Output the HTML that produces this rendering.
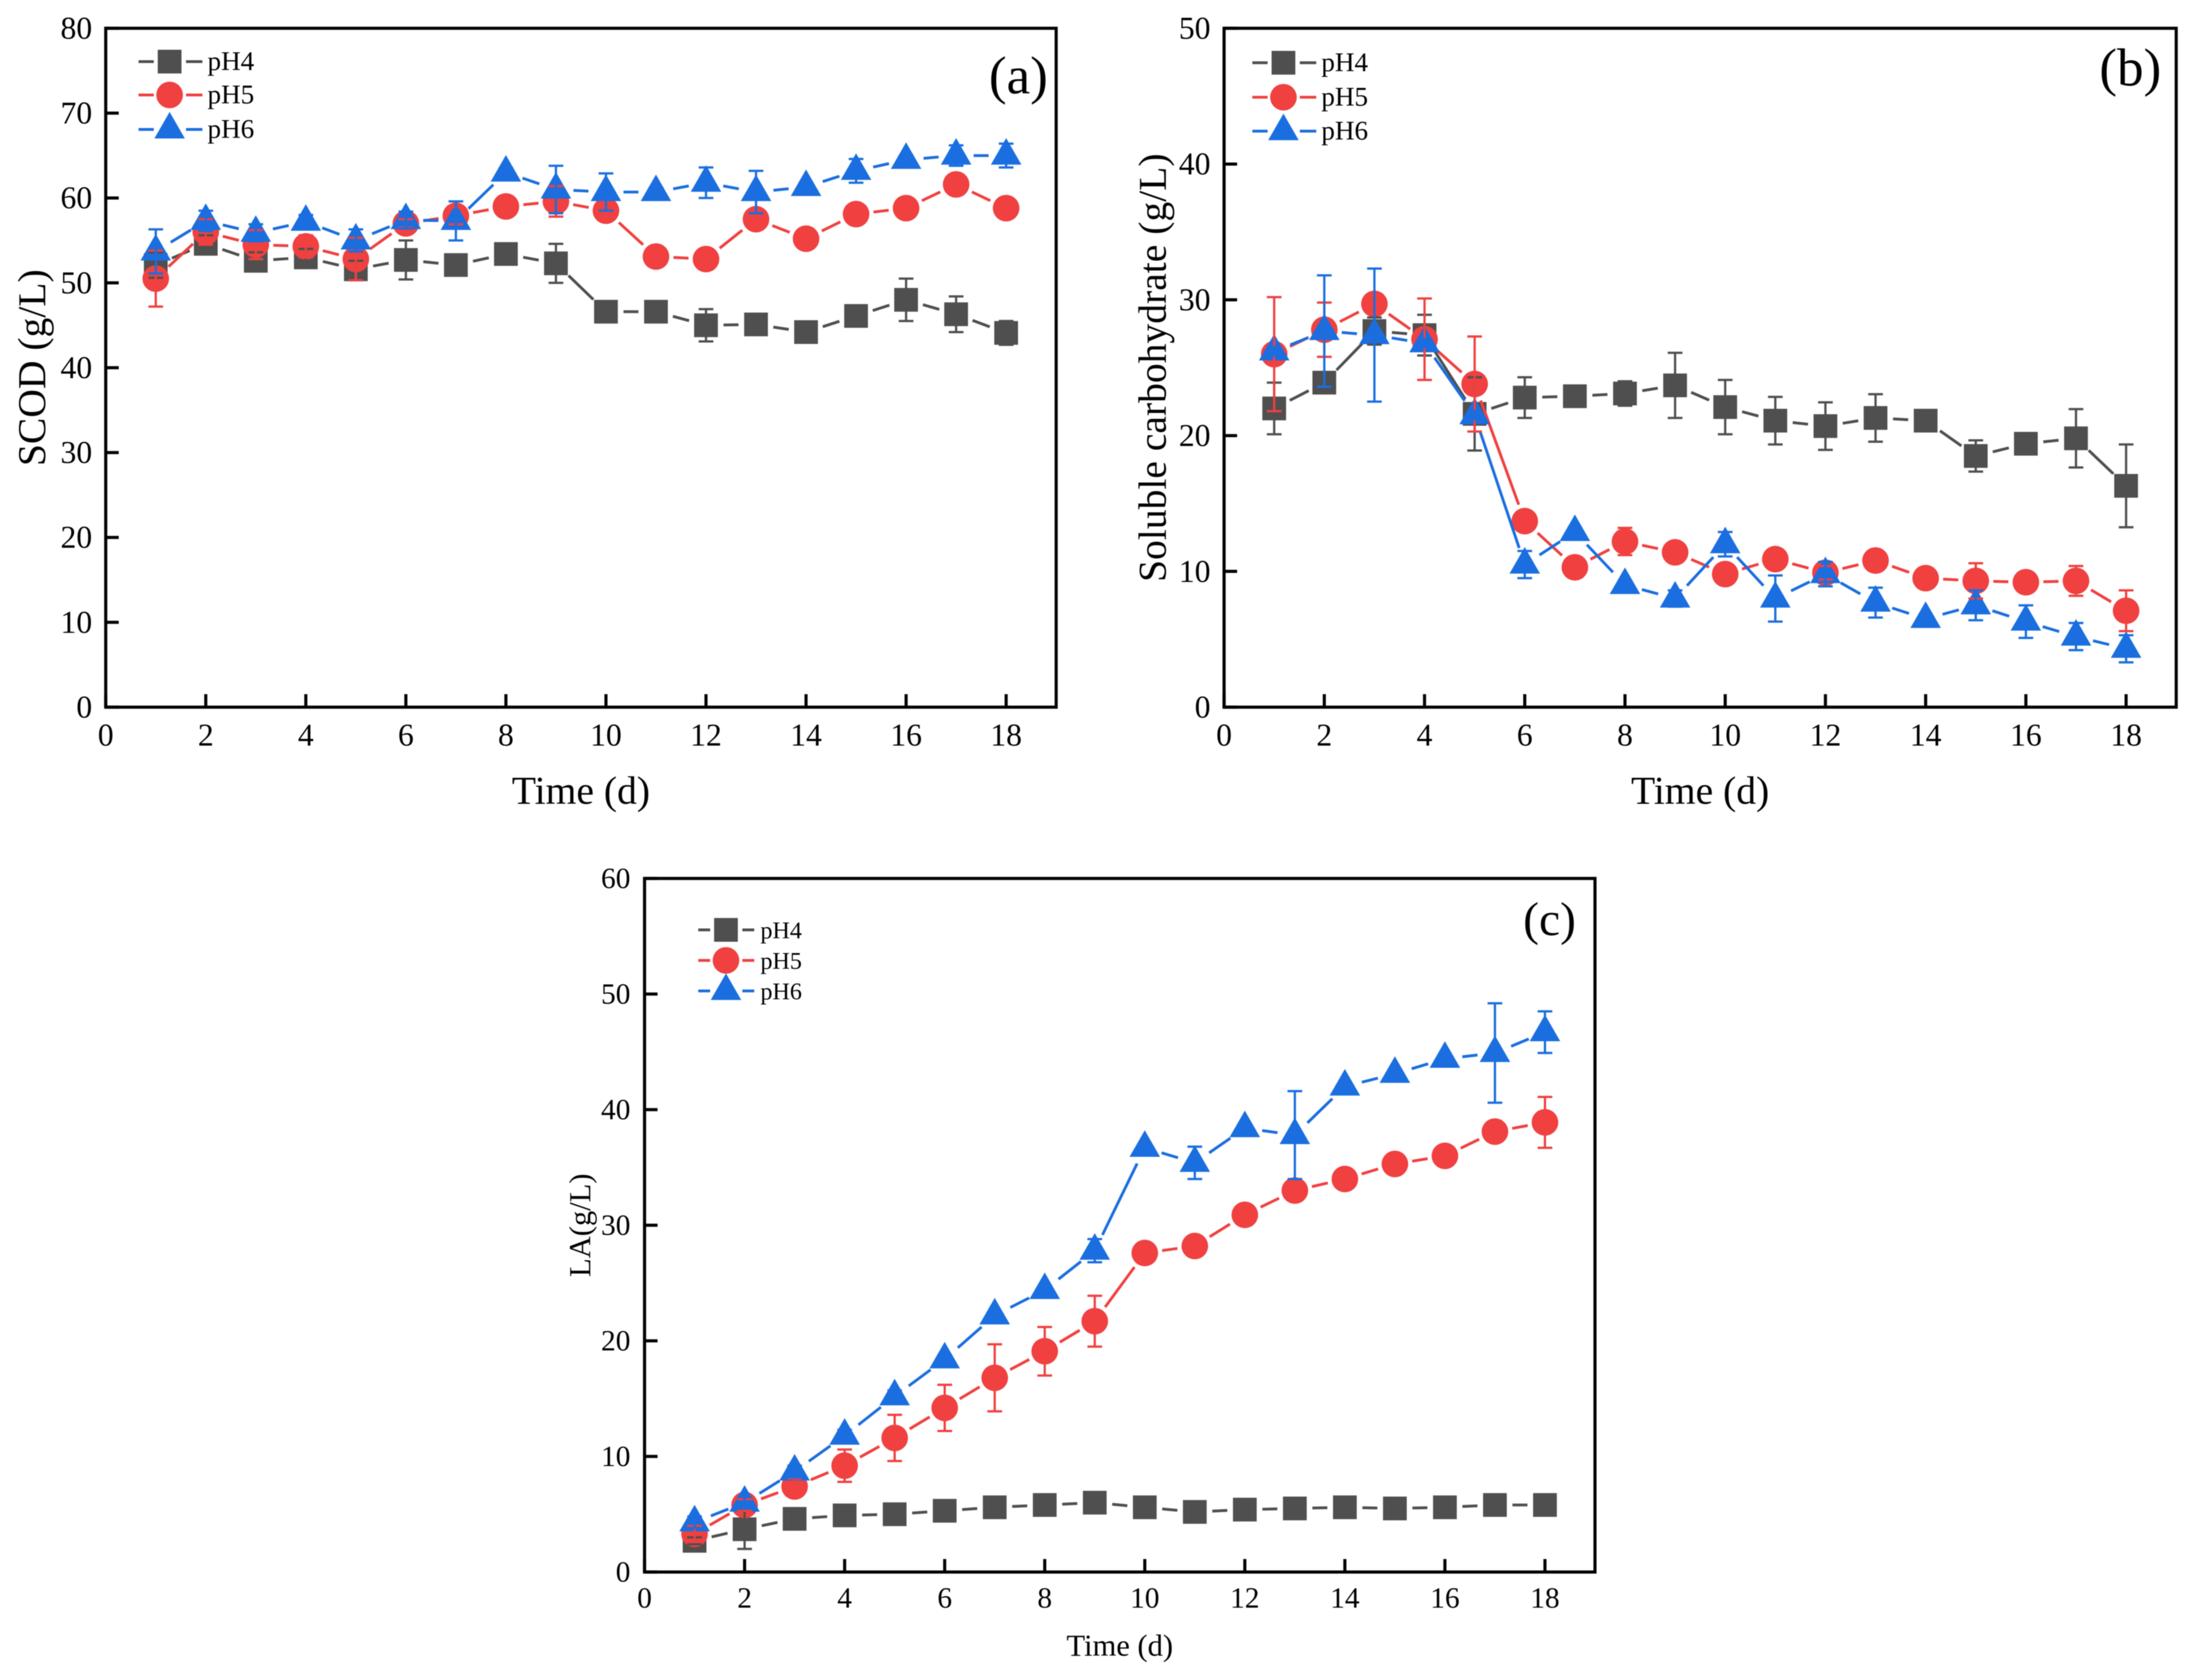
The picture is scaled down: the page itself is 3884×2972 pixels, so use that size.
<!DOCTYPE html>
<html>
<head>
<meta charset="utf-8">
<title>SCOD, soluble carbohydrate and LA over time</title>
<style>
html,body{margin:0;padding:0;background:#fff;}
svg{display:block;font-family:"Liberation Serif",serif;filter:blur(0.8px);}
</style>
</head>
<body>
<svg id="figure" xmlns="http://www.w3.org/2000/svg" width="3884" height="2972" viewBox="0 0 3884 2972"></svg>
<script>
// ---------- data ----------
const days = [1,2,3,4,5,6,7,8,9,10,11,12,13,14,15,16,17,18];
const seriesNames = ['pH4','pH5','pH6'];
const xTickLabels = [0,2,4,6,8,10,12,14,16,18];

const scodTicks = [0,10,20,30,40,50,60,70,80];
const scodPH4 = [52.1,54.6,52.6,53.0,51.6,52.7,52.1,53.4,52.3,46.6,46.6,45.0,45.1,44.2,46.1,48.0,46.3,44.1];
const scodPH4Err = [1.5,1.0,1.0,1.0,1.0,2.3,0.8,0.9,2.3,0.8,0.8,1.9,1.2,0.6,0.8,2.5,2.1,1.4];
const scodPH5 = [50.5,56.0,54.5,54.3,52.8,57.0,57.9,59.0,59.6,58.5,53.1,52.8,57.5,55.2,58.1,58.8,61.6,58.8];
const scodPH5Err = [3.3,1.5,1.7,1.3,2.5,0.5,1.0,0.5,1.8,1.0,0.5,0.5,1.0,0.5,0.5,0.5,0.5,0.5];
const scodPH6 = [53.7,57.3,55.9,57.2,55.0,57.4,57.3,63.0,61.0,60.7,60.7,61.8,60.7,61.3,63.2,64.5,65.0,65.0];
const scodPH6Err = [2.6,1.2,1.0,0.8,1.3,1.0,2.3,0.5,2.8,2.2,0.5,1.8,2.5,0.5,1.4,0.5,1.2,1.4];

const carbTicks = [0,10,20,30,40,50];
const carbPH4 = [22.0,23.9,27.7,27.4,21.6,22.8,22.9,23.1,23.7,22.1,21.1,20.7,21.3,21.1,18.5,19.4,19.8,16.3];
const carbPH4Err = [1.9,0.5,1.0,1.5,2.7,1.5,0.4,0.9,2.4,2.0,1.75,1.75,1.75,0.4,1.15,0.4,2.15,3.05];
const carbPH5 = [26.0,27.8,29.7,27.1,23.8,13.7,10.3,12.2,11.4,9.8,10.9,9.9,10.8,9.5,9.3,9.2,9.3,7.1];
const carbPH5Err = [4.2,2.0,0.5,3.0,3.5,0.4,0.4,1.0,0.4,0.5,0.4,0.5,0.4,0.4,1.3,0.4,1.1,1.5];
const carbPH6 = [26.2,27.7,27.4,26.8,21.5,10.5,12.9,9.0,8.0,12.0,8.0,9.8,7.7,6.5,7.5,6.3,5.2,4.3];
const carbPH6Err = [0.3,4.1,4.9,0.3,0.3,1.0,0.3,0.3,0.6,0.9,1.7,0.9,1.1,0.3,1.1,1.2,1.0,1.0];

const laTicks = [0,10,20,30,40,50,60];
const laPH4 = [2.7,3.7,4.6,4.9,5.0,5.3,5.6,5.8,6.0,5.6,5.2,5.4,5.5,5.6,5.5,5.6,5.8,5.8];
const laPH4Err = [0.3,1.7,0.3,0.3,0.3,0.3,0.3,0.3,0.3,0.3,0.3,0.3,0.3,0.3,0.3,0.3,0.3,0.3];
const laPH5 = [3.3,5.8,7.4,9.2,11.6,14.2,16.8,19.1,21.7,27.6,28.2,30.9,33.0,34.0,35.3,36.0,38.1,38.9];
const laPH5Err = [0.7,0.5,0.7,1.4,2.0,2.0,2.9,2.1,2.2,0.3,0.3,0.3,0.3,0.3,0.3,0.3,0.3,2.2];
const laPH6 = [4.3,6.0,8.7,11.8,15.2,18.4,22.2,24.4,27.8,36.7,35.4,38.4,37.8,42.0,43.1,44.4,44.9,46.7];
const laPH6Err = [0.5,0.5,0.5,0.5,0.5,0.3,0.3,0.3,1.0,0.3,1.4,0.3,3.8,0.3,0.3,0.3,4.3,1.8];

// ---------- layout ----------
const NS = 'http://www.w3.org/2000/svg';
const root = document.getElementById('figure');
const COLORS = ['#4f4f4f','#f04040','#1a6edf'];
const SHAPES = ['square','circle','triangle'];

function mk(tag, attrs, parent){
  const el = document.createElementNS(NS, tag);
  for(const k in attrs){ el.setAttribute(k, attrs[k]); }
  parent.appendChild(el);
  return el;
}
function txt(parent, str, x, y, size, anchor, rot){
  const attrs = {x:x, y:y, 'font-size':size, fill:'#000', 'text-anchor':anchor||'start'};
  if(rot){ attrs.transform = 'rotate('+rot+' '+x+' '+y+')'; }
  const el = mk('text', attrs, parent);
  el.textContent = str;
  return el;
}
function marker(parent, shape, cx, cy, color){
  let el;
  if(shape==='square'){
    el = mk('rect',{x:cx-21,y:cy-21,width:42,height:42,fill:color},parent);
  }else if(shape==='circle'){
    el = mk('circle',{cx:cx,cy:cy,r:23.5,fill:color},parent);
  }else{
    el = mk('polygon',{points:(cx)+','+(cy-31)+' '+(cx+27)+','+(cy+16)+' '+(cx-27)+','+(cy+16),fill:color},parent);
  }
  return el;
}

function drawPanel(p){
  const g = mk('g',{},root);
  
  
  const xScale = v => p.left + (p.right-p.left)*v/19;
  const yScale = v => p.bottom - (p.bottom-p.top)*v/p.yMax;

  // series lines + markers
  p.series.forEach(function(vals, si){
    const sg = mk('g',{},g);
    
    
    for(let i=0;i<vals.length-1;i++){
      const x1=xScale(days[i]), y1=yScale(vals[i]), x2=xScale(days[i+1]), y2=yScale(vals[i+1]);
      const len=Math.hypot(x2-x1,y2-y1), gap=31;
      if(len<=gap*2) continue;
      const ux=(x2-x1)/len, uy=(y2-y1)/len;
      const seg = mk('line',{x1:x1+ux*gap,y1:y1+uy*gap,x2:x2-ux*gap,y2:y2-uy*gap,stroke:COLORS[si],'stroke-width':5},sg);
      
      
    }
    vals.forEach(function(v,i){
      const m = marker(sg, SHAPES[si], xScale(days[i]), yScale(v), COLORS[si]);
      
      
    });
  });

  // error bars on top of all markers
  p.errors.forEach(function(errs, si){
    const eg = mk('g',{stroke:COLORS[si],'stroke-width':4,fill:'none'},g);
    
    
    errs.forEach(function(e,i){
      const cx=xScale(days[i]);
      const yh=yScale(p.series[si][i]+e), yl=yScale(p.series[si][i]-e);
      const bar = mk('path',{d:'M'+cx+' '+yh+'V'+yl+'M'+(cx-13)+' '+yh+'H'+(cx+13)+'M'+(cx-13)+' '+yl+'H'+(cx+13)},eg);
      
      
    });
  });

  // axes frame
  const frame = mk('rect',{x:p.left,y:p.top,width:p.right-p.left,height:p.bottom-p.top,fill:'none',stroke:'#000','stroke-width':5.5},g);
  
  

  // x ticks
  xTickLabels.forEach(function(t){
    const x=xScale(t);
    const tick = mk('line',{x1:x,y1:p.bottom,x2:x,y2:p.bottom-23,stroke:'#000','stroke-width':5.5},g);
    
    
    const lab = txt(g,String(t),x,p.xLabelY,p.tickSize,'middle');
    
    
  });
  // y ticks
  p.yTicks.forEach(function(t){
    const y=yScale(t);
    const tick = mk('line',{x1:p.left,y1:y,x2:p.left+23,y2:y,stroke:'#000','stroke-width':5.5},g);
    
    
    const lab = txt(g,String(t),p.left-p.yLabelGap,y+p.tickSize*0.33,p.tickSize,'end');
    
    
  });

  // titles
  const xt = txt(g,'Time (d)',(p.left+p.right)/2,p.xTitleY,p.titleSize,'middle');
  
  
  const yt = txt(g,p.yTitle,p.yTitleX,(p.top+p.bottom)/2,p.titleSize,'middle',-90);
  
  
  const tag = txt(g,p.label,p.labelX,p.labelY,p.labelSize,'start');
  
  

  // legend
  const lg = mk('g',{},g);
  
  
  seriesNames.forEach(function(name,si){
    const ly=p.legendY[si], c=p.legendX;
    const eg = mk('g',{},lg);
    
    
    mk('line',{x1:c-p.legendLineStart,y1:ly,x2:c-28,y2:ly,stroke:COLORS[si],'stroke-width':5},eg);
    mk('line',{x1:c+29,y1:ly,x2:c+p.legendLineEnd,y2:ly,stroke:COLORS[si],'stroke-width':5},eg);
    marker(eg,SHAPES[si],c,ly,COLORS[si]);
    txt(eg,name,c+p.legendTextDx,ly+15,p.legendSize,'start');
  });
}

const panels = [
  {id:'a',left:187,right:1868,top:50,bottom:1251,yMax:80,yTicks:scodTicks,
   series:[scodPH4,scodPH5,scodPH6],errors:[scodPH4Err,scodPH5Err,scodPH6Err],
   yTitle:'SCOD (g/L)',yTitleX:80,xLabelY:1319,xTitleY:1422,tickSize:56,titleSize:70,yLabelGap:24,
   label:'(a)',labelX:1749,labelY:165,labelSize:94,
   legendX:300,legendY:[109,168,229],legendLineStart:55,legendLineEnd:58,legendTextDx:67,legendSize:48},
  {id:'b',left:2165,right:3849,top:50,bottom:1251,yMax:50,yTicks:carbTicks,
   series:[carbPH4,carbPH5,carbPH6],errors:[carbPH4Err,carbPH5Err,carbPH6Err],
   yTitle:'Soluble carbohydrate (g/L)',yTitleX:2062,xLabelY:1319,xTitleY:1422,tickSize:56,titleSize:70,yLabelGap:24,
   label:'(b)',labelX:3713,labelY:151,labelSize:94,
   legendX:2270,legendY:[111,172,232],legendLineStart:55,legendLineEnd:58,legendTextDx:67,legendSize:48},
  {id:'c',left:1140,right:2821,top:1554,bottom:2781,yMax:60,yTicks:laTicks,
   series:[laPH4,laPH5,laPH6],errors:[laPH4Err,laPH5Err,laPH6Err],
   yTitle:'LA(g/L)',yTitleX:1044,xLabelY:2844,xTitleY:2929,tickSize:52,titleSize:54,yLabelGap:25,
   label:'(c)',labelX:2694,labelY:1654,labelSize:84,
   legendX:1284,legendY:[1645,1699,1753],legendLineStart:49,legendLineEnd:50,legendTextDx:61,legendSize:42.5}
];
panels.forEach(drawPanel);
</script>
</body>
</html>
